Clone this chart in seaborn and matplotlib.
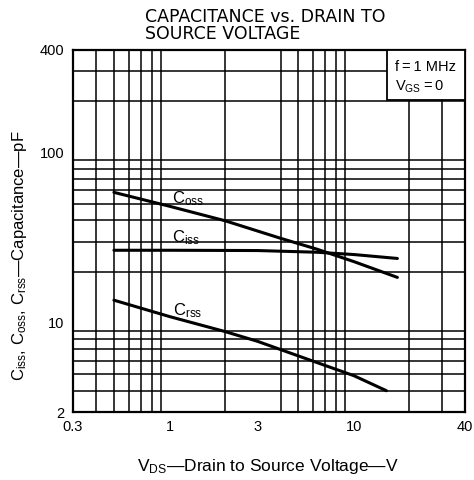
import numpy as np
import pandas as pd
import seaborn as sns
import matplotlib
matplotlib.use("Agg")
import matplotlib.pyplot as plt
from matplotlib.patches import Rectangle
from matplotlib.ticker import FixedLocator, NullFormatter

# ---------------- data ----------------
vds_coss = [0.5, 1.0, 2.0, 4.0, 6.3, 10.0, 17.2]
coss = [58.4, 48.4, 39.8, 31.4, 27.1, 22.9, 18.5]

vds_ciss = [0.5, 1.0, 3.0, 6.3, 10.0, 17.2]
ciss = [26.7, 26.7, 26.6, 26.0, 25.2, 23.9]

vds_crss = [0.5, 1.0, 2.0, 3.0, 5.0, 10.0, 15.0]
crss = [13.6, 10.9, 8.9, 7.8, 6.4, 4.9, 4.0]

curve_labels = ["C$_{\\rm oss}$", "C$_{\\rm iss}$", "C$_{\\rm rss}$"]
label_pos_x = [1.03, 1.03, 1.05]
label_pos_y = [54.0, 31.5, 11.8]

x_ticks = [0.3, 1, 3, 10, 40]
x_ticklabels = ["0.3", "1", "3", "10", "40"]
y_ticks = [3, 10, 100, 400]
y_ticklabels = ["2", "10", "100", "400"]
x_grid = [0.4, 0.5, 0.6, 0.7, 0.8, 0.9, 1, 2, 3, 4, 5, 6, 7, 8, 9, 10, 20, 30]
y_grid = [4, 5, 6, 7, 8, 9, 10, 20, 30, 40, 50, 60, 70, 80, 90, 100, 200, 300]

title = "CAPACITANCE vs. DRAIN TO\nSOURCE VOLTAGE"
xlabel = "V$_{\\rm DS}$\u2014Drain to Source Voltage\u2014V"
ylabel = "C$_{\\rm iss}$, C$_{\\rm oss}$, C$_{\\rm rss}$\u2014Capacitance\u2014pF"
cond_text = "f\u2009=\u20091 MHz\nV$_{\\rm GS}$\u2009=\u20090"

# ---------------- build long-form table ----------------
df = pd.concat([
    pd.DataFrame({"VDS": vds_coss, "C": coss, "curve": "Coss"}),
    pd.DataFrame({"VDS": vds_ciss, "C": ciss, "curve": "Ciss"}),
    pd.DataFrame({"VDS": vds_crss, "C": crss, "curve": "Crss"}),
])

sns.set_theme(style="white")
plt.rcParams["font.family"] = ["Liberation Sans", "DejaVu Sans"]
plt.rcParams["mathtext.fontset"] = "custom"
plt.rcParams["mathtext.rm"] = "Liberation Sans"
plt.rcParams["mathtext.it"] = "Liberation Sans:italic"
plt.rcParams["text.color"] = "black"

fig = plt.figure(figsize=(4.74, 4.8), dpi=100)
ax = fig.add_axes([73 / 474, 1 - 412 / 480, (465 - 73) / 474, (412 - 50) / 480])

sns.lineplot(data=df, x="VDS", y="C", units="curve", estimator=None,
             color="black", linewidth=2.2, ax=ax, sort=True, zorder=5)

ax.set_xscale("log")
ax.set_yscale("log")
ax.set_xlim(0.3, 40)
ax.set_ylim(3, 400)

ax.xaxis.set_major_locator(FixedLocator(x_ticks))
ax.set_xticklabels(x_ticklabels)
ax.yaxis.set_major_locator(FixedLocator(y_ticks))
ax.set_yticklabels(y_ticklabels)
ax.xaxis.set_minor_locator(FixedLocator(x_grid))
ax.yaxis.set_minor_locator(FixedLocator(y_grid))
ax.xaxis.set_minor_formatter(NullFormatter())
ax.yaxis.set_minor_formatter(NullFormatter())
ax.tick_params(which="both", length=0, labelsize=10.5, colors="black", pad=6)
ax.grid(False)
ax.grid(True, which="minor", color="black", linewidth=1.1)
ax.set_axisbelow(True)
for s in ax.spines.values():
    s.set_color("black")
    s.set_linewidth(1.6)
ax.set_xlabel("")
ax.set_ylabel("")

# condition box
ax.add_patch(Rectangle((0.801, 0.862), 0.199, 0.138, transform=ax.transAxes,
                       facecolor="white", edgecolor="black", linewidth=1.3, zorder=3))
ax.text(0.822, 0.972, cond_text, transform=ax.transAxes, ha="left", va="top",
        fontsize=10.5, linespacing=1.4, zorder=4, color="black")

for lab, lx, ly in zip(curve_labels, label_pos_x, label_pos_y):
    ax.text(lx, ly, lab, ha="left", va="center", fontsize=12, zorder=6, color="black")

fig.text(145 / 474, 1 - 8 / 480, title, ha="left", va="top", fontsize=12.5,
         linespacing=0.95, family=["DejaVu Sans"], color="black")
fig.text(268 / 474, 1 - 467 / 480, xlabel, ha="center", va="center", fontsize=12.5,
         color="black")
fig.text(20 / 474, 1 - 256 / 480, ylabel, ha="center", va="center", fontsize=12,
         rotation=90, color="black")

fig.savefig("out.png", dpi=100)
